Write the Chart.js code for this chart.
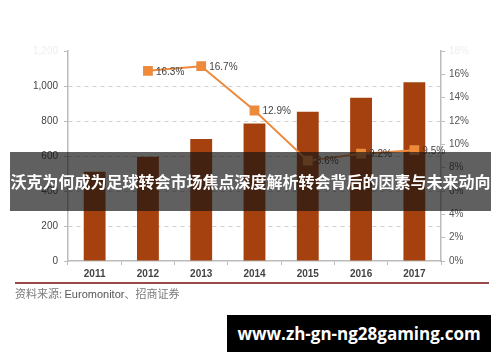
<!DOCTYPE html>
<html>
<head>
<meta charset="utf-8">
<script src="https://cdn.jsdelivr.net/npm/chart.js@4"></script>
<style>
  html, body { margin: 0; padding: 0; background: #fff; }
  #wrap { position: relative; width: 500px; height: 362px; overflow: hidden; }
  #c { position: absolute; left: 0; top: 0; }
  .src { position: absolute; left: 15px; top: 285px; font: 11px "Noto Sans CJK SC", sans-serif; color: #7a7a7a; }
  .src b { font: 11px "Liberation Sans", sans-serif; color: #555; font-weight: normal; }
  .rule { position: absolute; left: 15px; top: 282px; width: 474px; height: 2px; background: #9b4a4a; }
  .banner { position: absolute; left: 10px; top: 152px; width: 481px; height: 59px; background: rgba(20,20,20,.68);
            color: #fff; font: bold 16px "Noto Sans CJK SC", sans-serif; line-height: 59px; text-align: center; white-space: nowrap; }
  .site { position: absolute; left: 227px; top: 315px; width: 264px; height: 37px; background: #000;
          color: #fff; font: bold 17px "Open Sans", sans-serif; line-height: 37px; text-align: center; }
</style>
</head>
<body>
<div id="wrap">
  <canvas id="c" width="500" height="362"></canvas>
  <div class="rule"></div>
  <div class="src">资料来源: <b>Euromonitor</b>、招商证券</div>
  <div class="banner">沃克为何成为足球转会市场焦点深度解析转会背后的因素与未来动向</div>
  <div class="site">www.zh-gn-ng28gaming.com</div>
</div>
<script>
// ── data ──
const years = ["2011", "2012", "2013", "2014", "2015", "2016", "2017"];
const marketSize = [510, 596, 697, 786, 853, 933, 1021];
const growthPct = [null, 16.3, 16.7, 12.9, 8.6, 9.2, 9.5];
const leftTicks = [0, 200, 400, 600, 800, 1000, 1200];
const rightTicks = [0, 2, 4, 6, 8, 10, 12, 14, 16, 18];

const pctLabels = {
  id: "pctLabels",
  afterDatasetsDraw(chart) {
    const meta = chart.getDatasetMeta(1);
    const ctx = chart.ctx;
    ctx.save();
    ctx.font = "10px 'Liberation Sans', sans-serif";
    ctx.fillStyle = "#444";
    ctx.textBaseline = "middle";
    meta.data.forEach((pt, i) => {
      if (growthPct[i] == null) return;
      ctx.fillText(growthPct[i].toFixed(1) + "%", pt.x + 8, pt.y + 1);
    });
    ctx.restore();
  },
};

new Chart(document.getElementById("c"), {
  data: {
    labels: years,
    datasets: [
      {
        type: "bar",
        label: "规模",
        data: marketSize,
        backgroundColor: "#a5400f",
        categoryPercentage: 1,
        barPercentage: 0.41,
        yAxisID: "y",
        order: 1,
      },
      {
        type: "line",
        label: "增速",
        data: growthPct,
        borderColor: "#ec8a3e",
        backgroundColor: "#ef8a38",
        borderWidth: 2,
        pointStyle: "rect",
        pointRadius: 5.5,
        tension: 0,
        yAxisID: "y1",
        order: 0,
      },
    ],
  },
  options: {
    responsive: false,
    animation: false,
    layout: { padding: { top: 51, left: 0, right: 0, bottom: 0 } },
    plugins: { legend: { display: false }, tooltip: { enabled: false } },
    scales: {
      x: {
        afterFit: s => { s.height = 101; },
        grid: { drawOnChartArea: false, tickLength: 4, color: "#bbb" },
        border: { color: "#bbb", width: 1.5 },
        ticks: { color: "#444", padding: 3, font: { size: 10, family: "Liberation Sans", weight: "bold" } },
      },
      y: {
        position: "left",
        min: 0,
        max: 1200,
        afterFit: s => { s.width = 68; },
        afterBuildTicks: s => { s.ticks = leftTicks.map(v => ({ value: v })); },
        grid: {
          color: ctx => (ctx.tick && (ctx.tick.value === 0 || ctx.tick.value === 1200) ? "rgba(0,0,0,0)" : "#cfcfcf"),
          tickColor: "#bbb",
          tickLength: 4,
          drawTicks: true,
        },
        border: { color: "#bbb", width: 1.5, dash: [4, 4] },
        ticks: {
          padding: 6,
          color: ctx => (ctx.tick.value === 1200 ? "#eee" : "#444"),
          font: { size: 10, family: "Liberation Sans" },
          callback: v => v.toLocaleString("en-US"),
        },
      },
      y1: {
        position: "right",
        min: 0,
        max: 18,
        afterFit: s => { s.width = 59; },
        afterBuildTicks: s => { s.ticks = rightTicks.map(v => ({ value: v })); },
        grid: { drawOnChartArea: false, tickLength: 4, color: "#bbb" },
        border: { color: "#bbb", width: 1.5 },
        ticks: {
          padding: 4,
          color: ctx => (ctx.tick.value === 18 ? "#eee" : "#555"),
          font: { size: 10, family: "Liberation Sans" },
          callback: v => v + "%",
        },
      },
    },
  },
  plugins: [pctLabels],
});
</script>
</body>
</html>
